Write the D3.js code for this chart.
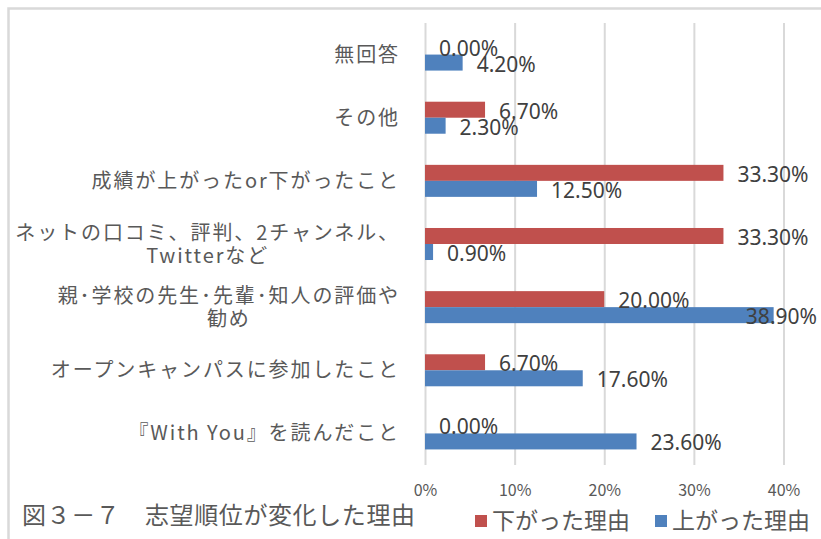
<!DOCTYPE html>
<html>
<head>
<meta charset="utf-8">
<script src="https://cdn.jsdelivr.net/npm/d3@7"></script>
<style>
  body { margin: 0; background: #fff; }
  text { font-family: "Noto Sans CJK JP", "Noto Sans", sans-serif; }
</style>
</head>
<body>
<div id="chart"></div>
<script>
// categories, top to bottom (each entry = lines of the label)
var categories = [
  ["無回答"],
  ["その他"],
  ["成績が上がったor下がったこと"],
  ["ネットの口コミ、評判、2チャンネル、", "Twitterなど"],
  ["親･学校の先生･先輩･知人の評価や", "勧め"],
  ["オープンキャンパスに参加したこと"],
  ["『With You』を読んだこと"]
];
var downValues = [0.000, 0.067, 0.333, 0.333, 0.200, 0.067, 0.000]; // 下がった理由
var upValues   = [0.042, 0.023, 0.125, 0.009, 0.389, 0.176, 0.236]; // 上がった理由
var seriesNames = ["下がった理由", "上がった理由"];
var xTicks = [0, 0.1, 0.2, 0.3, 0.4];
var chartTitle = "図３－７　志望順位が変化した理由";

var W = 821, H = 539;
var plot = {left: 425, right: 783.5, top: 23, bottom: 465};
var colors = ["#C0504D", "#4F81BD"];

var svg = d3.select("#chart").append("svg")
  .attr("width", W).attr("height", H);

// outer chart border
svg.append("rect")
  .attr("x", 8.5).attr("y", 8.5)
  .attr("width", 840).attr("height", 560)
  .attr("fill", "#fff")
  .attr("stroke", "#d9d9d9")
  .attr("stroke-width", 2.5);

var x = d3.scaleLinear().domain([0, 0.4]).range([plot.left, plot.right]);

var keys = categories.map(function(d, i) { return i; });
var y = d3.scaleBand()
  .domain(keys)
  .range([plot.top, plot.bottom])
  .paddingInner(0.493)
  .paddingOuter(0.2465);

var ySub = d3.scaleBand().domain([0, 1]).range([0, y.bandwidth()]);

// gridlines + tick labels
var xAxis = d3.axisBottom(x)
  .tickValues(xTicks)
  .tickFormat(d3.format(".0%"))
  .tickSize(-(plot.bottom - plot.top))
  .tickPadding(20);

var gx = svg.append("g")
  .attr("transform", "translate(0," + plot.bottom + ")")
  .call(xAxis);
gx.select(".domain").remove();
gx.selectAll(".tick line").attr("stroke", "#d9d9d9").attr("stroke-width", 2);
gx.selectAll(".tick text")
  .attr("fill", "#595959")
  .style("font-size", "16px");

// bars
var rows = keys.map(function(i) {
  return {i: i, vals: [downValues[i], upValues[i]]};
});

var groups = svg.selectAll(".cat")
  .data(rows)
  .enter().append("g")
  .attr("class", "cat")
  .attr("transform", function(d) { return "translate(0," + y(d.i) + ")"; });

groups.selectAll("rect")
  .data(function(d) { return d.vals.map(function(v, s) { return {v: v, s: s}; }); })
  .enter().append("rect")
  .attr("x", x(0))
  .attr("y", function(d) { return ySub(d.s); })
  .attr("width", function(d) { return x(d.v) - x(0); })
  .attr("height", ySub.bandwidth())
  .attr("fill", function(d) { return colors[d.s]; });

// data labels
var labelRight = 817;
groups.selectAll(".lbl")
  .data(function(d) { return d.vals.map(function(v, s) { return {v: v, s: s}; }); })
  .enter().append("text")
  .attr("class", "lbl")
  .attr("y", function(d) { return ySub(d.s) + ySub.bandwidth() / 2 + 9; })
  .attr("fill", "#404040")
  .style("font-size", "21px")
  .style("font-family", "'Noto Sans', sans-serif")
  .text(function(d) { return d3.format(".2%")(d.v); })
  .attr("x", function(d) {
    var w = this.getComputedTextLength();
    return Math.min(x(d.v) + 14, labelRight - w);
  });

// category labels
var catText = svg.selectAll(".catlabel")
  .data(rows)
  .enter().append("text")
  .attr("class", "catlabel")
  .attr("text-anchor", "middle")
  .attr("fill", "#595959")
  .style("font-size", "20px")
  .style("letter-spacing", "1.9px");

catText.each(function(d) {
  var lines = categories[d.i];
  var cy = y(d.i) + y.bandwidth() / 2;
  var lh = 23;
  var t = d3.select(this);
  // right-align the block, centre lines within it
  var tmp = lines.map(function(l) {
    var s = t.append("tspan").text(l);
    var w = s.node().getComputedTextLength();
    s.remove();
    return w;
  });
  var maxW = d3.max(tmp);
  var mid = 400 - maxW / 2;
  lines.forEach(function(l, k) {
    t.append("tspan")
      .attr("x", mid)
      .attr("y", cy + (k - (lines.length - 1) / 2) * lh + 7)
      .text(l);
  });
});

// title (text box)
svg.append("text")
  .attr("x", 22).attr("y", 524)
  .attr("fill", "#595959")
  .style("font-size", "24px")
  .style("letter-spacing", "0.6px")
  .text(chartTitle);

// legend
var legendX = [475, 655];
var leg = svg.selectAll(".leg")
  .data(seriesNames)
  .enter().append("g")
  .attr("class", "leg")
  .attr("transform", function(d, i) { return "translate(" + legendX[i] + ",515)"; });
leg.append("rect")
  .attr("width", 12).attr("height", 12)
  .attr("fill", function(d, i) { return colors[i]; });
leg.append("text")
  .attr("x", 17).attr("y", 14)
  .attr("fill", "#595959")
  .style("font-size", "23px")
  .text(function(d) { return d; });
</script>
</body>
</html>
